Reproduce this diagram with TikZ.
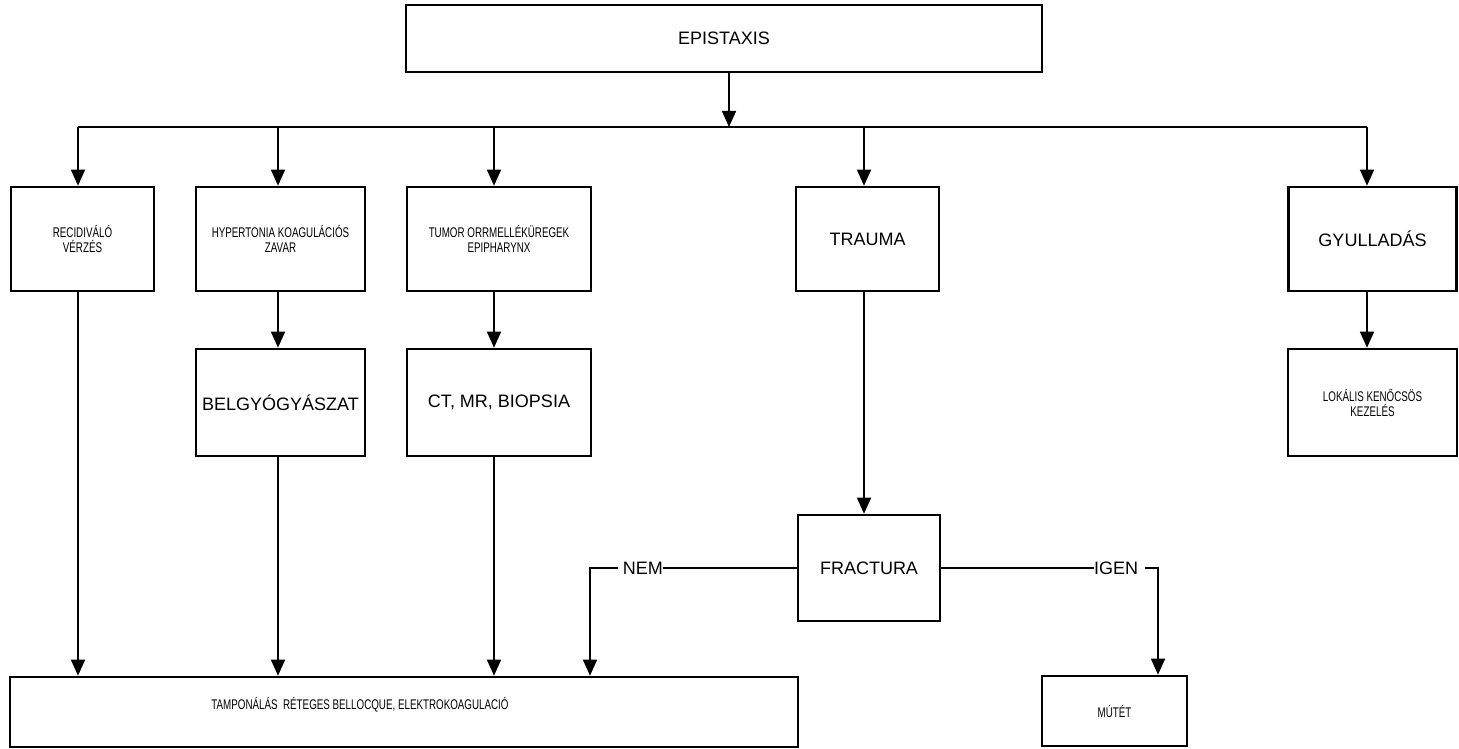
\documentclass[tikz,border=0pt]{standalone}
\usepackage{fontspec}
\setmainfont{Liberation Sans}
\newfontfamily\condfont[FakeStretch=0.7]{Liberation Sans}
\usetikzlibrary{arrows.meta}

\begin{document}
\begin{tikzpicture}[x=1pt,y=-1pt,
  box/.style={draw, line width=2.6pt, minimum height=104pt, inner sep=0pt, align=center},
  bigtext/.style={font=\fontsize{18}{20}\selectfont},
  smalltext/.style={font=\condfont\fontsize{14}{15}\selectfont},
  link/.style={line width=1.6pt},
  arr/.style={link, -{Triangle[length=16pt,width=14pt]}}]
\useasboundingbox (0,0) rectangle (1459,749);

% top box
\node[box, bigtext, minimum width=636pt, minimum height=67pt] (epi) at (724,38.5) {EPISTAXIS};

% first row
\node[box, smalltext, minimum width=143pt] (rec) at (82.5,239) {RECIDIVÁLÓ\\VÉRZÉS};
\node[box, smalltext, minimum width=169pt] (hyp) at (280.5,239) {HYPERTONIA KOAGULÁCIÓS\\ZAVAR};
\node[box, smalltext, minimum width=184pt] (tum) at (499,239) {TUMOR ORRMELLÉKÜREGEK\\EPIPHARYNX};
\node[box, bigtext, minimum width=143pt] (tra) at (867.5,239) {TRAUMA};
\node[box, bigtext, minimum width=168pt] (gyu) at (1372.5,239) {GYULLADÁS};

% second row
\node[box, bigtext, minimum width=169pt, minimum height=107pt] (belg) at (280.5,402.5) {BELGYÓGYÁSZAT};
\node[box, bigtext, minimum width=184pt, minimum height=107pt] (ct) at (499,402.5) {CT, MR, BIOPSIA};
\node[box, smalltext, minimum width=169pt, minimum height=107pt] (lok) at (1372.5,402.5) {LOKÁLIS KENŐCSÖS\\KEZELÉS};

% fracture decision
\node[box, bigtext, minimum width=142pt, minimum height=106pt] (fra) at (869,568) {FRACTURA};
\node[bigtext, inner xsep=0pt, anchor=east] (nem) at (663,568) {NEM};
\node[bigtext, inner xsep=0pt, anchor=west] (igen) at (1094,568) {IGEN};

% bottom row
\node[box, minimum width=788pt, minimum height=70pt,
  label={[smalltext, xshift=-44pt, yshift=7pt]center:TAMPONÁLÁS\ \ RÉTEGES BELLOCQUE, ELEKTROKOAGULACIÓ}]
  (tamp) at (404,712) {};
\node[box, smalltext, minimum width=145pt, minimum height=70pt] (mut) at (1114.5,711) {MÚTÉT};

% distribution bar
\coordinate (bar) at (729,127);
\coordinate (c1) at (78,127);
\coordinate (c2) at (278,127);
\coordinate (c3) at (494,127);
\coordinate (c4) at (864,127);
\coordinate (c5) at (1367,127);
\coordinate (cn) at (590,568);
\coordinate (ci) at (1158,568);

\draw[arr] (epi.south -| bar) -- (bar);
\draw[link] (c1) -- (c5);
\draw[arr] (c1) -- (c1 |- rec.north);
\draw[arr] (c2) -- (c2 |- hyp.north);
\draw[arr] (c3) -- (c3 |- tum.north);
\draw[arr] (c4) -- (c4 |- tra.north);
\draw[arr] (c5) -- (c5 |- gyu.north);

% second level
\draw[arr] (hyp.south -| c2) -- (belg.north -| c2);
\draw[arr] (tum.south -| c3) -- (ct.north -| c3);
\draw[arr] (gyu.south -| c5) -- (lok.north -| c5);
\draw[arr] (tra.south -| c4) -- (fra.north -| c4);

% into the bottom box
\draw[arr] (rec.south -| c1) -- (tamp.north -| c1);
\draw[arr] (belg.south -| c2) -- (tamp.north -| c2);
\draw[arr] (ct.south -| c3) -- (tamp.north -| c3);

% fracture branches
\draw[link] (fra.west) -- (nem.east);
\draw[arr] ([xshift=-5pt]nem.west) -- (cn) -- (cn |- tamp.north);
\draw[link] (fra.east) -- (igen.west);
\draw[arr] ([xshift=7pt]igen.east) -- (ci) -- (ci |- mut.north);
\end{tikzpicture}
\end{document}
